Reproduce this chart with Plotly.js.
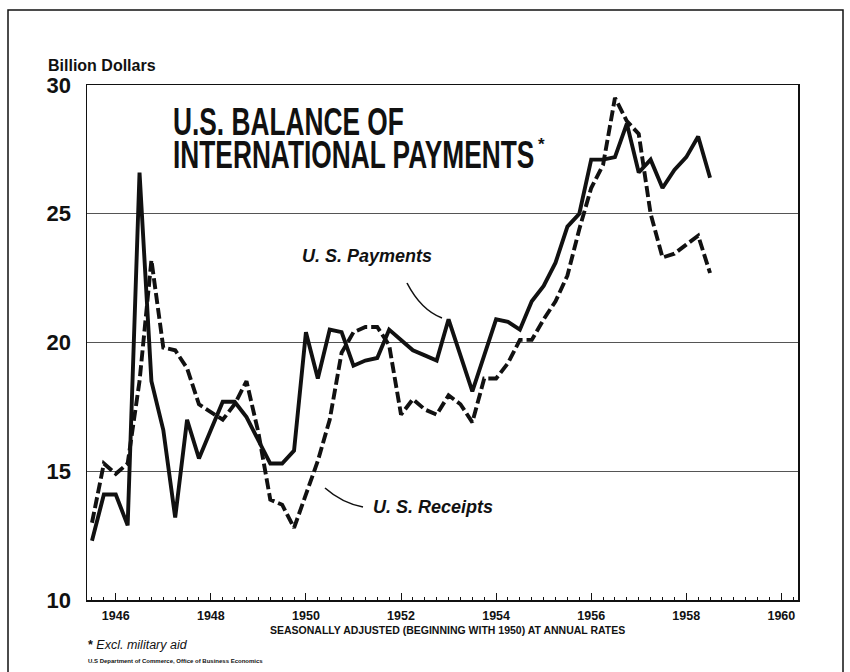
<!DOCTYPE html>
<html>
<head>
<meta charset="utf-8">
<script src="https://cdn.plot.ly/plotly-3.0.1.min.js"></script>
<style>
  html, body { margin: 0; padding: 0; background: #ffffff; }
  #chart { width: 850px; height: 672px; }
</style>
</head>
<body>
<div id="chart"></div>
<script>
// ---------------- DATA ----------------
const quarters = [
  "1945 Q3","1945 Q4",
  "1946 Q1","1946 Q2","1946 Q3","1946 Q4",
  "1947 Q1","1947 Q2","1947 Q3","1947 Q4",
  "1948 Q1","1948 Q2","1948 Q3","1948 Q4",
  "1949 Q1","1949 Q2","1949 Q3","1949 Q4",
  "1950 Q1","1950 Q2","1950 Q3","1950 Q4",
  "1951 Q1","1951 Q2","1951 Q3","1951 Q4",
  "1952 Q1","1952 Q2","1952 Q3","1952 Q4",
  "1953 Q1","1953 Q2","1953 Q3","1953 Q4",
  "1954 Q1","1954 Q2","1954 Q3","1954 Q4",
  "1955 Q1","1955 Q2","1955 Q3","1955 Q4",
  "1956 Q1","1956 Q2","1956 Q3","1956 Q4",
  "1957 Q1","1957 Q2","1957 Q3","1957 Q4",
  "1958 Q1","1958 Q2","1958 Q3"
];

// U.S. Payments (solid line), billion dollars
const payments = [
  12.3, 14.1,
  14.1, 12.9, 26.6, 18.5,
  16.6, 13.2, 17.0, 15.5,
  16.6, 17.7, 17.7, 17.1,
  16.2, 15.3, 15.3, 15.8,
  20.4, 18.6, 20.5, 20.4,
  19.1, 19.3, 19.4, 20.5,
  20.1, 19.7, 19.5, 19.3,
  20.9, 19.5, 18.1, 19.5,
  20.9, 20.8, 20.5, 21.6,
  22.2, 23.1, 24.5, 25.0,
  27.1, 27.1, 27.2, 28.5,
  26.6, 27.1, 26.0, 26.7,
  27.2, 28.0, 26.4
];

// U.S. Receipts (dashed line), billion dollars
const receipts = [
  13.0, 15.3,
  14.9, 15.3, 18.5, 23.2,
  19.8, 19.7, 19.0, 17.6,
  17.3, 17.0, 17.6, 18.5,
  16.5, 13.9, 13.7, 12.8,
  14.1, 15.4, 17.0, 19.6,
  20.4, 20.6, 20.6, 19.9,
  17.2, 17.8, 17.4, 17.2,
  17.95, 17.6, 16.9, 18.6,
  18.6, 19.2, 20.1, 20.1,
  20.9, 21.6, 22.6, 24.4,
  26.0, 26.9, 29.5, 28.6,
  28.1, 25.0, 23.3, 23.45,
  23.8, 24.15, 22.7
];

const yTickValues = [10, 15, 20, 25, 30];
const xTickYears = [1946, 1948, 1950, 1952, 1954, 1956, 1958, 1960];
const xTickText  = ["1946", "1948", "1950", "1952", "1954", "1956", "1958", "1960"];

// ---------------- helpers ----------------
function quarterToYear(q) {
  const parts = q.split(" Q");
  return Number(parts[0]) + (Number(parts[1]) - 1) / 4;
}
const xVals = quarters.map(quarterToYear);

// plot-area pixel box used to place free text / frame
const L = 87, R = 798, T = 85, B = 600;
const px = x => (x - L) / (R - L);
const py = y => (B - y) / (B - T);

const FONT = "Liberation Sans, Arial, Helvetica, sans-serif";
const INK = "#111111";

const data = [
  {
    x: xVals, y: receipts, type: "scatter", mode: "lines", name: "U.S. Receipts",
    line: { color: INK, width: 3.9, dash: "11px,4px" }, hoverinfo: "skip"
  },
  {
    x: xVals, y: payments, type: "scatter", mode: "lines", name: "U.S. Payments",
    line: { color: INK, width: 3.9 }, hoverinfo: "skip"
  }
];

const layout = {
  width: 850, height: 672,
  margin: { l: L, r: 850 - R, t: T, b: 672 - B, pad: 0 },
  paper_bgcolor: "#ffffff", plot_bgcolor: "#ffffff",
  showlegend: false,
  font: { family: FONT, color: INK },
  xaxis: {
    type: "linear",
    range: [1945.395, 1960.35],
    tickmode: "array", tickvals: xTickYears, ticktext: xTickText,
    ticks: "inside", ticklen: 7, tickwidth: 1, tickcolor: INK,
    tickfont: { family: FONT, size: 12.5, weight: 700, color: INK },
    ticklabelstandoff: 3,
    minor: { tickmode: "linear", tick0: 1946, dtick: 0.25, ticks: "inside", ticklen: 3.5, tickwidth: 1, tickcolor: INK, showgrid: false },
    showgrid: false, zeroline: false,
    showline: true, mirror: true, linecolor: INK, linewidth: 1.5
  },
  yaxis: {
    range: [10, 30],
    tickmode: "array", tickvals: yTickValues,
    ticks: "",
    tickfont: { family: FONT, size: 22, weight: 700, color: INK },
    ticklabelstandoff: 10,
    showgrid: true, gridcolor: "#555555", gridwidth: 1,
    zeroline: false,
    showline: true, mirror: true, linecolor: INK, linewidth: 1.5
  },
  shapes: [
    // outer frame of the figure
    { type: "rect", xref: "paper", yref: "paper",
      x0: px(8), x1: px(843), y0: py(700), y1: py(10),
      line: { color: INK, width: 1.5 }, fillcolor: "rgba(0,0,0,0)", layer: "above" },
    // leader line to "U.S. Payments"
    { type: "path", xref: "paper", yref: "paper",
      path: `M ${px(407)},${py(283)} Q ${px(421)},${py(310)} ${px(442)},${py(318)}`,
      line: { color: INK, width: 1.6 } },
    // leader line to "U.S. Receipts"
    { type: "path", xref: "paper", yref: "paper",
      path: `M ${px(325)},${py(488)} Q ${px(342)},${py(503)} ${px(363)},${py(507)}`,
      line: { color: INK, width: 1.6 } }
  ],
  annotations: [
    { text: "Billion Dollars", xref: "paper", yref: "paper",
      x: px(46), y: py(65), xanchor: "left", yanchor: "middle", showarrow: false,
      font: { family: FONT, size: 16, weight: 700, color: INK } },
    { text: "U.S. BALANCE OF<br>INTERNATIONAL PAYMENTS", xref: "paper", yref: "paper",
      x: px(171), y: py(137), xanchor: "left", yanchor: "middle", align: "left", showarrow: false,
      font: { family: FONT, size: 26.3, weight: 700, color: INK } },
    { text: "*", xref: "paper", yref: "paper",
      x: px(536), y: py(145), xanchor: "left", yanchor: "middle", showarrow: false,
      font: { family: FONT, size: 17, weight: 700, color: INK } },
    { text: "U. S. Payments", xref: "paper", yref: "paper",
      x: px(300), y: py(256), xanchor: "left", yanchor: "middle", showarrow: false,
      font: { family: FONT, size: 18, weight: 700, style: "italic", color: INK } },
    { text: "U. S. Receipts", xref: "paper", yref: "paper",
      x: px(371), y: py(507), xanchor: "left", yanchor: "middle", showarrow: false,
      font: { family: FONT, size: 18, weight: 700, style: "italic", color: INK } },
    { text: "SEASONALLY ADJUSTED (BEGINNING WITH 1950) AT ANNUAL RATES", xref: "paper", yref: "paper",
      x: px(447), y: py(630), xanchor: "center", yanchor: "middle", showarrow: false,
      font: { family: FONT, size: 10.5, weight: 700, color: INK } },
    { text: "<b>*</b> <i>Excl. military aid</i>", xref: "paper", yref: "paper",
      x: px(86), y: py(645), xanchor: "left", yanchor: "middle", showarrow: false,
      font: { family: FONT, size: 12.5, color: INK } },
    { text: "U.S Department of Commerce, Office of Business Economics", xref: "paper", yref: "paper",
      x: px(86), y: py(661), xanchor: "left", yanchor: "middle", showarrow: false,
      font: { family: FONT, size: 6, weight: 700, color: INK } }
  ]
};

Plotly.newPlot("chart", data, layout, { staticPlot: true, displayModeBar: false }).then(gd => {
  // The original heading is hand lettered, tall and narrow: tighten its
  // line spacing and stretch it vertically so that it keeps its width.
  gd.querySelectorAll(".annotation").forEach(a => {
    const t = a.querySelector("text");
    if (!t || !/BALANCE/.test(t.textContent)) return;
    const lines = t.querySelectorAll("tspan.line");
    if (lines.length > 1) lines[1].setAttribute("dy", "0.865em");
    const s = 1.45;
    t.style.transformBox = "fill-box";
    t.style.transformOrigin = "0 0";
    t.style.transform = `scaleY(${s})`;
    const r = t.getBoundingClientRect();
    const wantTop = 100;           // top of the heading's text box in the picture
    t.style.transform = `translateY(${wantTop - r.top}px) scaleY(${s})`;
  });
});
</script>
</body>
</html>
